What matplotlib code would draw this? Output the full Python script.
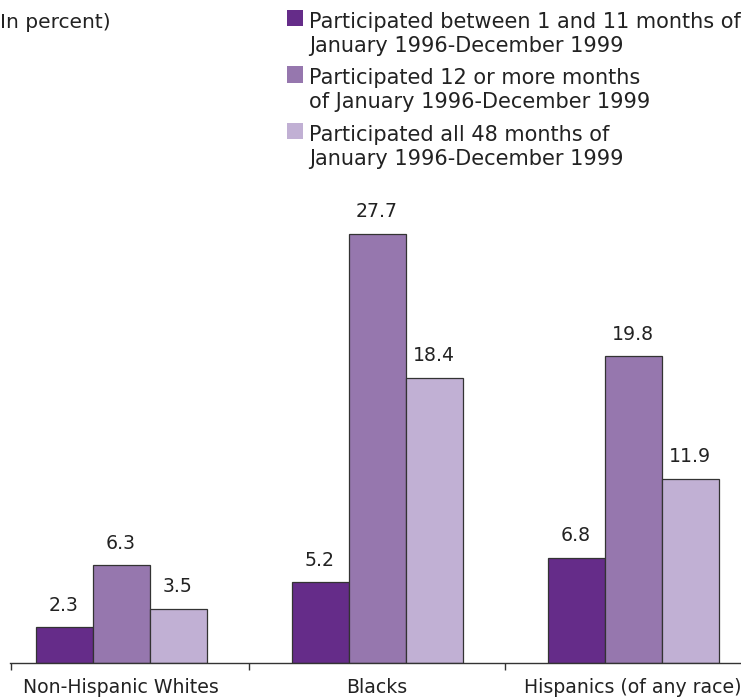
import numpy as np
import matplotlib
matplotlib.use('Agg')
from matplotlib import pyplot as plt
from matplotlib.patches import Rectangle

# categories and series
groups = ['Non-Hispanic Whites', 'Blacks', 'Hispanics (of any race)']
series = [['Participated between 1 and 11 months of', 'January 1996-December 1999'],
          ['Participated 12 or more months', 'of January 1996-December 1999'],
          ['Participated all 48 months of', 'January 1996-December 1999']]
short_months = [2.3, 5.2, 6.8]
long_months = [6.3, 27.7, 19.8]
all_months = [3.5, 18.4, 11.9]
colors = ['#652c89', '#9677ae', '#c1b0d4']

plt.rcParams['font.family'] = ['DejaVu Sans']
fs = 13.6
txt = '#222222'

fig = plt.figure(figsize=(7.41, 7.0), dpi=100)
W, H = 741, 700
ax = fig.add_axes([10 / W, 37 / H, 731 / W, (663 - 180) / H])

x = np.arange(len(groups))
bw = 57 / 256
values = [short_months, long_months, all_months]
for i, vals in enumerate(values):
    pos = x + (i - 1) * bw
    bars = ax.bar(pos, vals, width=bw, color=colors[i], edgecolor='#333333', linewidth=0.9, zorder=2)
    for b, v in zip(bars, vals):
        ax.annotate('%.1f' % v, (b.get_x() + b.get_width() / 2, v), xytext=(0, 9),
                    textcoords='offset points', ha='center', va='bottom', fontsize=fs, color=txt)

ax.set_xlim(-111 / 256, 2 + 108 / 256)
ax.set_ylim(0, (663 - 180) / 15.49)

for s in ['top', 'right', 'left']:
    ax.spines[s].set_visible(False)
ax.spines['bottom'].set_color('#333333')
ax.spines['bottom'].set_linewidth(1.0)
ax.set_yticks([])

ax.set_xticks(x)
ax.set_xticklabels(groups, fontsize=fs, color=txt)
ax.tick_params(axis='x', which='major', length=0, pad=11)
ax.set_xticks([-111 / 256 + 0.003, 0.5, 1.5], minor=True)
ax.tick_params(axis='x', which='minor', length=5, width=1.0, color='#333333', direction='out')

fig.text(0, 1 - 28 / H, 'In percent)', fontsize=14.5, va='baseline', ha='left', color=txt)

# legend drawn by hand, one line of text at a time
for i, (lines, c) in enumerate(zip(series, colors)):
    top = 10 + 56.5 * i
    fig.patches.append(Rectangle((287 / W, 1 - (top + 16) / H), 16 / W, 16 / H,
                                 transform=fig.transFigure, facecolor=c, edgecolor='none'))
    for j, line in enumerate(lines):
        fig.text(309 / W, 1 - (top + 18 + 24 * j) / H, line, fontsize=15, va='baseline',
                 ha='left', color=txt)

fig.savefig('out.png', dpi=100)
